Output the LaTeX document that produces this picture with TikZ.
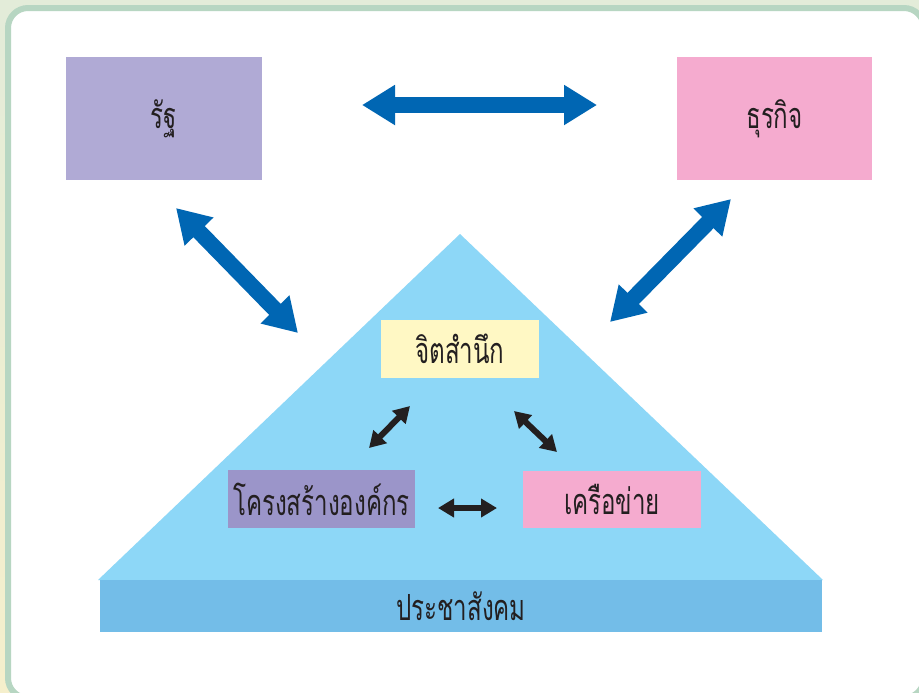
\documentclass[tikz,border=0pt]{standalone}
\usepackage{fontspec}
\newfontfamily\thaifont[Script=Thai,FakeStretch=0.67]{Loma}
\usetikzlibrary{arrows.meta}
\definecolor{bgtop}{HTML}{E3ECD9}
\definecolor{bgbottom}{HTML}{F5EFCC}
\definecolor{framegreen}{HTML}{B7D6C2}
\definecolor{statecol}{HTML}{B0AAD5}
\definecolor{bizcol}{HTML}{F5ABCF}
\definecolor{awarecol}{HTML}{FFF8C4}
\definecolor{structcol}{HTML}{9B95C9}
\definecolor{tricol}{HTML}{8DD7F7}
\definecolor{slabcol}{HTML}{73BDE8}
\definecolor{arrowblue}{HTML}{0066B3}
\definecolor{inkdark}{HTML}{231F20}

\begin{document}
\begin{tikzpicture}[
    % GLOBAL CFG
    x=0.5pt, y=-0.5pt,
    font=\thaifont\fontsize{18}{21}\selectfont,
    text=inkdark,
    % Styles
    panel/.style={% white sheet with green frame
        fill=white,
        draw=framegreen,
        line width=3pt,
        rounded corners=10pt,
        },
    box/.style={% coloured label boxes
        rectangle,
        inner sep=0pt,
        },
    bigarrow/.style={% thick blue double arrows
        draw=arrowblue,
        line width=8pt,
        {Triangle[length=16.5pt,width=19pt]}-{Triangle[length=16.5pt,width=19pt]},
        },
    smallarrow/.style={% black double arrows inside the triangle
        draw=inkdark,
        line width=3pt,
        {Triangle[length=8pt,width=9pt]}-{Triangle[length=8pt,width=9pt]},
        },
    ]

    \useasboundingbox (0,0) rectangle (919,692);

    % Background and panel
    \shade[top color=bgtop, bottom color=bgbottom] (0,0) rectangle (919,692);
    \filldraw[panel] (8,8) rectangle (924,698);

    % Pyramid and base slab
    \coordinate (apex) at (460,234);
    \coordinate (baseL) at (98,580);
    \coordinate (baseR) at (823,580);
    \fill[tricol] (apex) -- (baseL) -- (baseR) -- cycle;
    \node [box, fill=slabcol, minimum width=361pt, minimum height=26pt] (society) at (461,606) {ประชาสังคม};

    % Top boxes
    \node [box, fill=statecol, minimum width=98pt, minimum height=61.5pt] (state) at (164,118.5) {รัฐ};
    \node [box, fill=bizcol, minimum width=97.5pt, minimum height=61.5pt] (biz) at (774.5,118.5) {ธุรกิจ};

    % Boxes inside the pyramid
    \node [box, fill=awarecol, minimum width=79pt, minimum height=29pt] (aware) at (460,349) {จิตสำนึก};
    \node [box, fill=structcol, minimum width=93.5pt, minimum height=29pt] (struct) at (321.5,499) {โครงสร้างองค์กร};
    \node [box, fill=bizcol, minimum width=89pt, minimum height=28.5pt] (network) at (612,499.5) {เครือข่าย};

    % Arrow end points
    \coordinate (sbL) at (362,105);
    \coordinate (sbR) at (597,105);
    \coordinate (stT) at (176,208);
    \coordinate (stB) at (298,333);
    \coordinate (bzT) at (731,199);
    \coordinate (bzB) at (610,322);
    \coordinate (awL) at (410,406);
    \coordinate (stR) at (369,448);
    \coordinate (awR) at (514,411);
    \coordinate (nwT) at (557,452);
    \coordinate (stE) at (438,508);
    \coordinate (nwW) at (497,508);

    % Blue arrows
    \draw [bigarrow] (sbL) -- (sbR);
    \draw [bigarrow] (stT) -- (stB);
    \draw [bigarrow] (bzT) -- (bzB);

    % Black arrows
    \draw [smallarrow] (stR) -- (awL);
    \draw [smallarrow] (awR) -- (nwT);
    \draw [smallarrow] (stE) -- (nwW);

\end{tikzpicture}
\end{document}
